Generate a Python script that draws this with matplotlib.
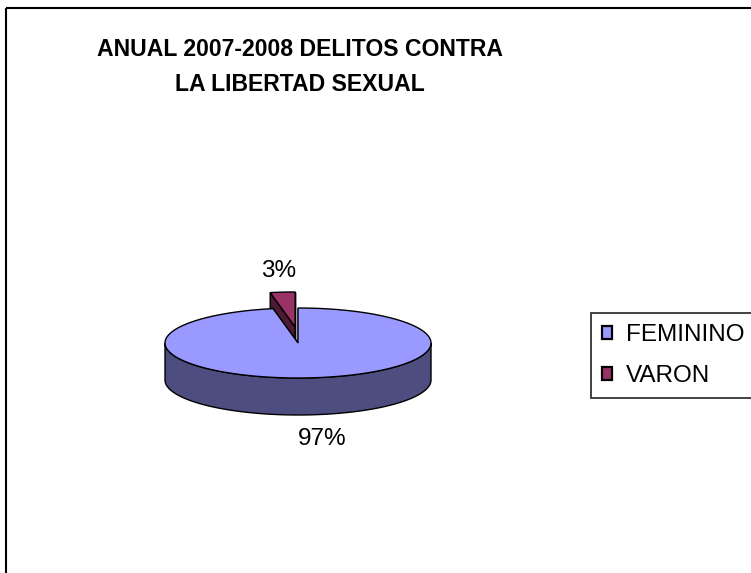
import numpy as np
import matplotlib.pyplot as plt
from matplotlib.patches import Polygon, Rectangle, Patch

plt.rcParams['font.family'] = ['Liberation Sans', 'DejaVu Sans']

# datos
categories = ['FEMININO', 'VARON']
values = [97, 3]
top_colors = ['#9999FF', '#993366']
side_colors = ['#4D4D80', '#4D1A33']
explode = [0.0, 0.46]
title = 'ANUAL 2007-2008 DELITOS CONTRA\nLA LIBERTAD SEXUAL'

fig = plt.figure(figsize=(7.51, 5.73), dpi=100)
ax = fig.add_axes([0, 0, 1, 1])
ax.set_xlim(0, 751)
ax.set_ylim(573, 0)
ax.axis('off')

# marco del grafico
ax.add_patch(Rectangle((6, 8), 800, 600, fill=False, edgecolor='black', lw=1.5))

ax.text(300, 67, title, ha='center', va='center', fontsize=16.6,
        fontweight='bold', linespacing=1.7)

# pastel 3D hecho a mano
cx, cy = 298, 343
a, b, depth = 133, 35, 37
total = sum(values)


def pts(t, ox, oy, dz=0):
    return np.column_stack([ox + a * np.cos(t), oy - b * np.sin(t) + dz])


slices = []
t_hi = np.pi / 2
for i, v in enumerate(values):
    t_lo = t_hi - 2 * np.pi * v / total
    mid = (t_lo + t_hi) / 2
    ox = cx + explode[i] * a * np.cos(mid) * 0.5
    oy = cy - explode[i] * b * np.sin(mid)
    slices.append((i, t_lo, t_hi, mid, ox, oy))
    t_hi = t_lo

# primero las porciones de atras
slices.sort(key=lambda s: -np.sin(s[3]))

for i, t_lo, t_hi, mid, ox, oy in slices:
    # paredes radiales
    for t in (t_lo, t_hi):
        p = pts(np.array([t]), ox, oy)[0]
        wall = [(ox, oy), tuple(p), (p[0], p[1] + depth), (ox, oy + depth)]
        ax.add_patch(Polygon(wall, closed=True, facecolor=side_colors[i],
                             edgecolor='black', lw=1))
    # lado exterior (solo la parte de adelante)
    for k in range(-2, 2):
        lo = max(t_lo, -np.pi + 2 * np.pi * k)
        hi = min(t_hi, 2 * np.pi * k)
        if hi > lo:
            ts = np.linspace(lo, hi, 200)
            upper = pts(ts, ox, oy)
            lower = pts(ts[::-1], ox, oy, depth)
            ax.add_patch(Polygon(np.vstack([upper, lower]), closed=True,
                                 facecolor=side_colors[i], edgecolor='black', lw=1))
    # cara superior
    ts = np.linspace(t_lo, t_hi, 400)
    top = np.vstack([[ox, oy], pts(ts, ox, oy)])
    ax.add_patch(Polygon(top, closed=True, facecolor=top_colors[i],
                         edgecolor='black', lw=1))
    # etiqueta
    r = 1.65
    lx = ox + r * a * np.cos(mid) + 4
    ly = oy - r * b * np.sin(mid) + (depth if np.sin(mid) < 0 else 0) + 2
    ax.text(lx, ly, f'{values[i] / total * 100:.0f}%', ha='center', va='center',
            fontsize=17.5)

handles = [Patch(facecolor=top_colors[i], edgecolor='black', lw=1.6)
           for i in range(len(categories))]
leg = ax.legend(handles, categories, loc='upper left',
                bbox_to_anchor=(591 / 751, 1 - 313 / 573),
                bbox_transform=fig.transFigure, fontsize=17.5, frameon=True,
                fancybox=False, edgecolor='black', borderaxespad=0,
                handlelength=0.42, handleheight=0.42, handletextpad=0.55,
                labelspacing=0.78, borderpad=0.45)
leg.get_frame().set_linewidth(1.3)

fig.savefig('out.png', dpi=100)
